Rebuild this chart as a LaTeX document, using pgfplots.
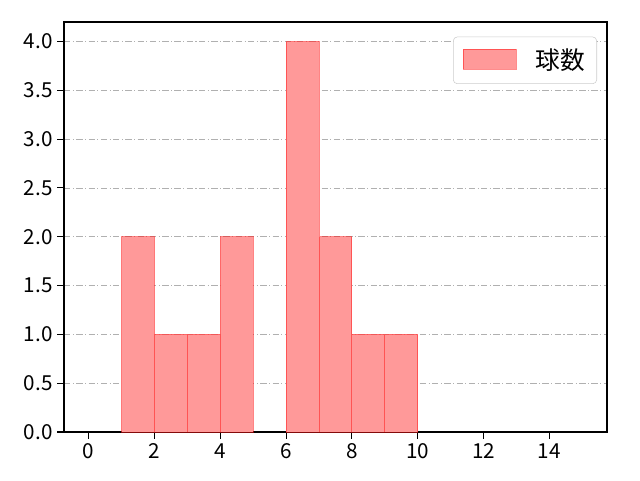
\documentclass[border=0pt]{standalone}
\usepackage{fontspec}
\setmainfont{Noto Sans CJK JP}
\usepackage{pgfplots}
\pgfplotsset{compat=1.18}

\definecolor{barfill}{RGB}{255,153,153}
\definecolor{gridgray}{RGB}{176,176,176}
\definecolor{legframe}{RGB}{204,204,204}

\begin{document}
\begin{tikzpicture}
\begin{axis}[
    at={(0,0)}, anchor=south west,
    scale only axis,
    width=407.25pt, height=307.5pt,
    xmin=-0.75, xmax=15.75,
    ymin=0, ymax=4.2,
    xtick={0,2,...,14},
    ytick={0,0.5,...,4.0},
    tick label style={font=\fontsize{15.5}{17}\selectfont},
    /pgf/number format/.cd, fixed, fixed zerofill, precision=1,
    /pgfplots/.cd,
    xticklabel={\pgfmathprintnumber[fixed,precision=0]{\tick}},
    /pgf/number format/assume math mode=true,
    tick align=outside,
    tick pos=left,
    major tick length=5pt,
    tick style={black, line width=0.8pt},
    axis line style={black, line width=1pt},
    ymajorgrids,
    grid style={gridgray, line width=0.6pt, dash pattern=on 4.8pt off 1.8pt on 0.8pt off 1.8pt},
    legend style={at={(1,1)}, xshift=-7.5pt, yshift=-11pt, anchor=north east,
        draw=legframe, rounded corners=3pt, inner xsep=7pt, inner ysep=7pt,
        font=\fontsize{18.5}{20}\selectfont},
    legend cell align=left,
    legend image code/.code={\draw[#1, sharp corners, line width=0.6pt] (0pt,-6.5pt) rectangle (40pt,8.5pt);},
]
\addplot[ybar, bar width=1, bar shift=0pt, fill=barfill, draw=red, draw opacity=0.45, line width=0.7pt]
    coordinates {(1.5,2) (2.5,1) (3.5,1) (4.5,2) (6.5,4) (7.5,2) (8.5,1) (9.5,1)};
\addlegendentry{\hspace{12pt}球数}
\end{axis}
\useasboundingbox (-48pt,-36pt) rectangle (432pt,324pt);
\end{tikzpicture}
\end{document}
